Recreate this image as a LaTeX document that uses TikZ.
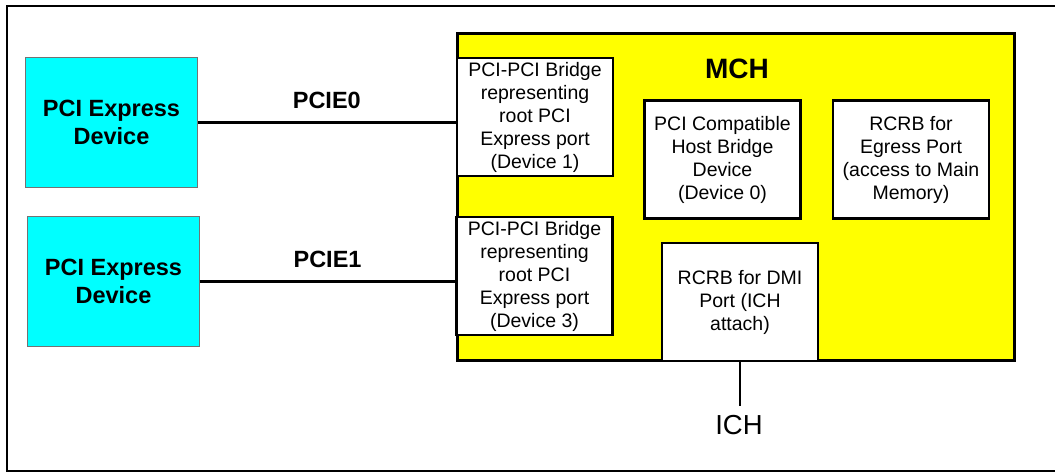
\documentclass[tikz,border=0pt]{standalone}
\usepackage{fontspec}
\setmainfont{Liberation Sans}
\definecolor{devcyan}{RGB}{0,255,255}
\definecolor{mchyellow}{RGB}{255,255,0}

\tikzset{
	devbox/.style={draw=black!55, line width=0.8pt, fill=devcyan, minimum width=172pt, minimum height=130pt, align=center, font=\fontsize{23.5}{28}\selectfont\bfseries},
	regbox/.style={draw, line width=2.6pt, fill=white, minimum width=156pt, minimum height=118pt, inner sep=0pt, align=center, font=\fontsize{19.5}{23}\selectfont},
	buslbl/.style={font=\fontsize{23.5}{28}\selectfont\bfseries, inner sep=0pt},
	wire/.style={line width=2.4pt}
}

\begin{document}
\begin{tikzpicture}[x=1pt,y=-1pt]
			%%%%% START %%%%%
			
			\useasboundingbox (0,0) rectangle (1055,473);
			\draw[line width=2pt] (1055,6) -- (7,6) -- (7,471) -- (1055,471);
			
			\node[draw, line width=3pt, fill=mchyellow, minimum width=557pt, minimum height=327pt] (mch) at (736,197) {};
			\node[font=\fontsize{28}{32}\selectfont\bfseries, inner sep=0pt] (mchlbl) at (737,68.5) {MCH};
			
			\node[devbox] (dev0) at (111.5,122.5) {PCI Express\\Device};
			\node[devbox] (dev1) at (113.5,281.5) {PCI Express\\Device};
			
			\node[regbox] (br0) at (535,117) {PCI-PCI Bridge\\representing\\root PCI\\Express port\\(Device 1)};
			\node[regbox] (br1) at (534.5,276) {PCI-PCI Bridge\\representing\\root PCI\\Express port\\(Device 3)};
			\node[regbox] (host) at (722.5,159.5) {PCI Compatible\\Host Bridge\\Device\\(Device 0)};
			\node[regbox] (egress) at (911,159.5) {RCRB for\\Egress Port\\(access to Main\\Memory)};
			\node[regbox] (dmi) at (740,302) {RCRB for DMI\\Port (ICH\\attach)};
			
			\node[font=\fontsize{27.5}{32}\selectfont, inner sep=9pt] (ich) at (739,425) {ICH};
			
			\draw[wire] (dev0.east) -- (dev0.east -| br0.west) node[buslbl, midway, above=13pt] (pcie0) {PCIE0};
			\draw[wire] (dev1.east) -- (dev1.east -| br1.west) node[buslbl, midway, above=13pt] (pcie1) {PCIE1};
			\draw[line width=2.6pt] (dmi.south) -- (dmi.south |- ich.north);
			
			%%%%% END %%%%%
\end{tikzpicture}
\end{document}
